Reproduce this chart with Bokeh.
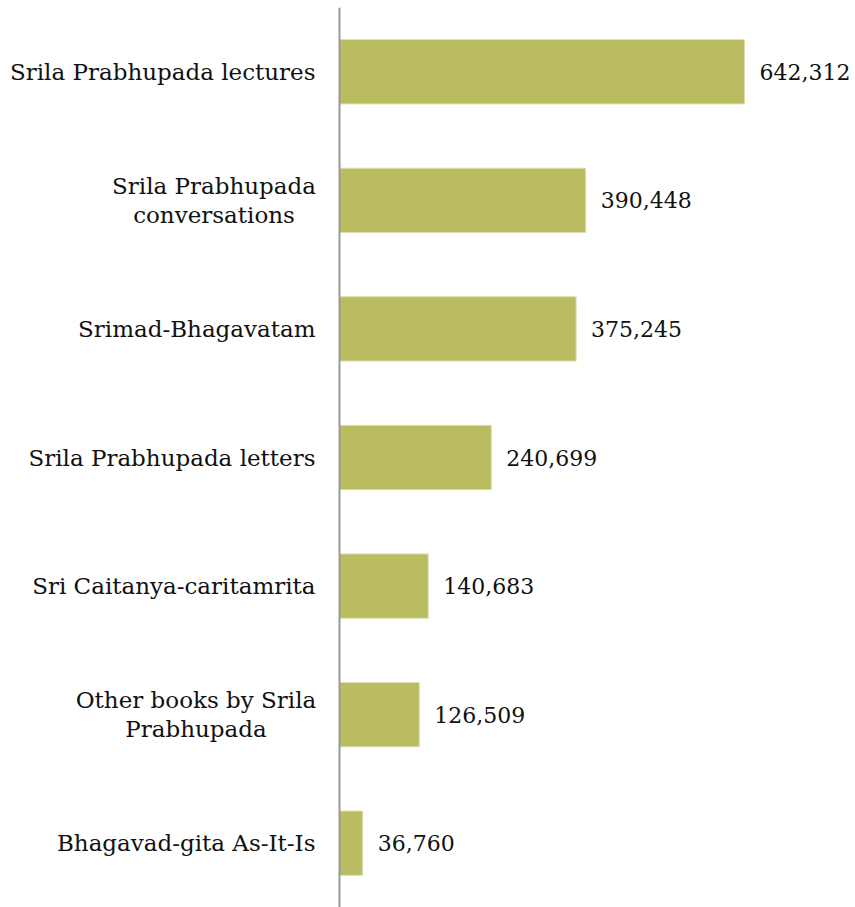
from bokeh.plotting import figure
from bokeh.models import ColumnDataSource, FactorRange, Range1d, Span
from bokeh.embed import file_html
from bokeh.resources import INLINE
from bokeh.core.properties import value

categories = [
    "Srila Prabhupada lectures",
    "Srila Prabhupada\nconversations",
    "Srimad-Bhagavatam",
    "Srila Prabhupada letters",
    "Sri Caitanya-caritamrita",
    "Other books by Srila\nPrabhupada",
    "Bhagavad-gita As-It-Is",
]
values = [642312, 390448, 375245, 240699, 140683, 126509, 36760]
value_labels = ["{:,}".format(v) for v in values]

FONT = "DejaVu Serif"
LABEL_PX = 23
# rendered pixel width of the widest line of each wrapped label (layout only)
WRAPPED_W = {"Srila Prabhupada": 203, "Other books by Srila": 239}

def label_layout(lbl):
    lines = lbl.split("\n")
    if len(lines) == 1:
        return -24, "right"
    w = WRAPPED_W.get(lines[0], 200)
    return -24 - w / 2, "center"

offs, aligns = zip(*[label_layout(c) for c in categories])

src = ColumnDataSource(dict(cat=categories, val=values, lab=value_labels,
                            zero=[0] * len(values), loff=list(offs), lalign=list(aligns)))

# pixel layout: zero line at x=339, longest bar ends at x=744 in an 855px frame
vmax = max(values)
unit = vmax / 405.0
x_start = -339 * unit
x_end = (855 - 339) * unit

p = figure(width=855, height=907, output_backend="svg", toolbar_location=None,
           y_range=FactorRange(*reversed(categories), range_padding=0),
           x_range=Range1d(x_start, x_end),
           min_border_left=0, min_border_right=0, min_border_top=7, min_border_bottom=0)
p.outline_line_color = None
p.grid.visible = False
p.xaxis.visible = False
p.yaxis.visible = False

p.hbar(y="cat", right="val", left=0, height=0.5, source=src,
       fill_color="#b9bc5f", line_color="#dcddb0", line_width=1)

p.add_layout(Span(location=0, dimension="height", line_color="#999999", line_width=2))

p.text(x="val", y="cat", text="lab", source=src, x_offset=15,
       text_align="left", text_baseline="middle",
       text_font=value(FONT), text_font_size="22px", text_color="#111111")

p.text(x="zero", y="cat", text="cat", source=src, x_offset="loff",
       text_align="lalign", text_baseline="middle", text_line_height=1.12,
       text_font=value(FONT), text_font_size=f"{LABEL_PX}px", text_color="#111111")

with open("out.html", "w") as f:
    f.write(file_html(p, INLINE))
